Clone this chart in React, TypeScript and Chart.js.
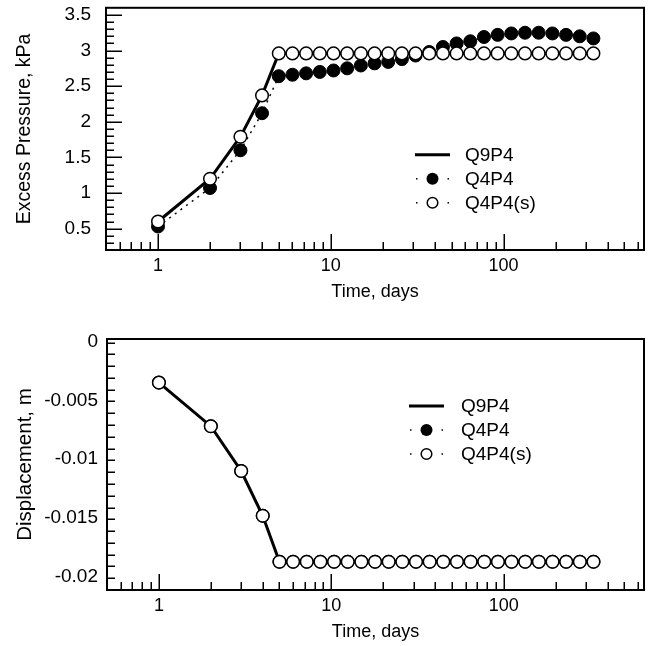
import React, { useEffect, useRef } from "react";
import { Chart, registerables } from "chart.js";

Chart.register(...registerables);

// ---------- data ----------
const TIME_DAYS = [1, 2, 3, 4, 5, 6, 7.2, 8.64, 10.37, 12.44, 14.93, 17.92, 21.5, 25.8, 30.96, 37.15, 44.58, 53.5, 64.2, 77.04, 92.45, 110.9, 133.1, 159.7, 191.7, 230, 276, 331.2];

const PRESSURE_Q9P4 = [0.6, 1.2, 1.79, 2.37, 2.96, 2.96, 2.96, 2.96, 2.96, 2.96, 2.96, 2.96, 2.96, 2.96, 2.96, 2.96, 2.96, 2.96, 2.96, 2.96, 2.96, 2.96, 2.96, 2.96, 2.96, 2.96, 2.96, 2.96];
const PRESSURE_Q4P4 = [0.53, 1.07, 1.6, 2.12, 2.64, 2.66, 2.68, 2.7, 2.72, 2.75, 2.79, 2.82, 2.84, 2.88, 2.93, 2.98, 3.05, 3.1, 3.13, 3.19, 3.22, 3.24, 3.25, 3.25, 3.24, 3.22, 3.2, 3.17];
const PRESSURE_Q4P4S = [0.6, 1.2, 1.79, 2.37, 2.96, 2.96, 2.96, 2.96, 2.96, 2.96, 2.96, 2.96, 2.96, 2.96, 2.96, 2.96, 2.96, 2.96, 2.96, 2.96, 2.96, 2.96, 2.96, 2.96, 2.96, 2.96, 2.96, 2.96];

const DISP_Q9P4 = [-0.0035, -0.0072, -0.011, -0.0148, -0.0187, -0.0187, -0.0187, -0.0187, -0.0187, -0.0187, -0.0187, -0.0187, -0.0187, -0.0187, -0.0187, -0.0187, -0.0187, -0.0187, -0.0187, -0.0187, -0.0187, -0.0187, -0.0187, -0.0187, -0.0187, -0.0187, -0.0187, -0.0187];
const DISP_Q4P4 = [-0.0035, -0.0072, -0.011, -0.0148, -0.0187, -0.0187, -0.0187, -0.0187, -0.0187, -0.0187, -0.0187, -0.0187, -0.0187, -0.0187, -0.0187, -0.0187, -0.0187, -0.0187, -0.0187, -0.0187, -0.0187, -0.0187, -0.0187, -0.0187, -0.0187, -0.0187, -0.0187, -0.0187];
const DISP_Q4P4S = [-0.0035, -0.0072, -0.011, -0.0148, -0.0187, -0.0187, -0.0187, -0.0187, -0.0187, -0.0187, -0.0187, -0.0187, -0.0187, -0.0187, -0.0187, -0.0187, -0.0187, -0.0187, -0.0187, -0.0187, -0.0187, -0.0187, -0.0187, -0.0187, -0.0187, -0.0187, -0.0187, -0.0187];

const SERIES_NAMES = ["Q9P4", "Q4P4", "Q4P4(s)"];

const X_TICKS = [1, 10, 100];
const X_TICK_LABELS = ["1", "10", "100"];
const X_MINOR_TICKS = [0.6, 0.7, 0.8, 0.9, 2, 3, 4, 5, 6, 7, 8, 9, 20, 30, 40, 50, 60, 70, 80, 90, 200, 300, 400, 500, 600];

const P_TICKS = [0.5, 1, 1.5, 2, 2.5, 3, 3.5];
const P_TICK_LABELS = ["0.5", "1", "1.5", "2", "2.5", "3", "3.5"];
const D_TICKS = [0, -0.005, -0.01, -0.015, -0.02];
const D_TICK_LABELS = ["0", "-0.005", "-0.01", "-0.015", "-0.02"];

const FONT = "'Liberation Sans', Arial, Helvetica, sans-serif";

function pts(ys: number[]) {
  return TIME_DAYS.map((x, i) => ({ x, y: ys[i] }));
}

// ---------- plugins ----------
const framePlugin = {
  id: "frame",
  beforeDatasetsDraw(chart: any, _args: any, opts: any) {
    const { ctx, chartArea: a, scales } = chart;
    const x = scales.x;
    const y = scales.y;
    ctx.save();
    ctx.strokeStyle = "#000";
    ctx.lineWidth = 1.5;
    ctx.beginPath();
    for (const v of X_TICKS) {
      const px = Math.round(x.getPixelForValue(v)) + 0.25;
      ctx.moveTo(px, a.bottom);
      ctx.lineTo(px, a.bottom - 16);
    }
    for (const v of X_MINOR_TICKS) {
      const px = Math.round(x.getPixelForValue(v)) + 0.25;
      ctx.moveTo(px, a.bottom);
      ctx.lineTo(px, a.bottom - 8);
    }
    const n = Math.round((opts.yMax - opts.yMin) / opts.minorStep);
    for (let i = 0; i <= n; i++) {
      const v = opts.yMin + i * opts.minorStep;
      if (v <= opts.yMin + 1e-9 || v >= opts.yMax - 1e-9) continue;
      const isMajor = Math.abs(v / opts.majorStep - Math.round(v / opts.majorStep)) < 1e-6;
      const py = Math.round(y.getPixelForValue(v)) + 0.25;
      ctx.moveTo(a.left, py);
      ctx.lineTo(a.left + (isMajor ? 16 : 8), py);
    }
    ctx.stroke();
    ctx.lineWidth = 2;
    ctx.strokeRect(a.left, a.top, a.right - a.left, a.bottom - a.top);
    ctx.restore();
  },
};

const legendPlugin = {
  id: "customLegend",
  afterDatasetsDraw(chart: any, _args: any, opts: any) {
    const { ctx, chartArea: a } = chart;
    const x0 = a.left + opts.dx;
    const y0 = a.top + opts.dy;
    const gap = 24;
    const len = 35;
    const mid = x0 + len / 2;
    ctx.save();
    ctx.fillStyle = "#000";
    ctx.strokeStyle = "#000";
    ctx.lineWidth = 3;
    ctx.beginPath();
    ctx.moveTo(x0, y0);
    ctx.lineTo(x0 + len, y0);
    ctx.stroke();
    for (let r = 1; r <= 2; r++) {
      const yy = y0 + r * gap;
      ctx.fillRect(x0 + 1, yy - 0.75, 1.5, 1.5);
      ctx.fillRect(x0 + len - 2.5, yy - 0.75, 1.5, 1.5);
      ctx.beginPath();
      ctx.arc(mid, yy, r === 1 ? 6 : 5.3, 0, Math.PI * 2);
      if (r === 1) {
        ctx.fill();
      } else {
        ctx.fillStyle = "#fff";
        ctx.fill();
        ctx.lineWidth = 1.5;
        ctx.stroke();
        ctx.fillStyle = "#000";
      }
    }
    ctx.font = `19px ${FONT}`;
    ctx.textBaseline = "middle";
    ctx.textAlign = "left";
    SERIES_NAMES.forEach((name, i) => {
      ctx.fillText(name, x0 + opts.textDx, y0 + i * gap + 1);
    });
    ctx.restore();
  },
};

function zeroPad(s: any) {
  s.paddingTop = 0;
  s.paddingBottom = 0;
  s.paddingLeft = 0;
  s.paddingRight = 0;
}

function makeConfig(p: {
  q9: number[];
  q4: number[];
  q4s: number[];
  yMin: number;
  yMax: number;
  yTicks: number[];
  yLabels: string[];
  yTitle: string;
  yTitleSize: number;
  majorStep: number;
  minorStep: number;
  yAxisWidth: number;
  yTickPad: number;
  padding: any;
  legend: any;
}) {
  return {
    type: "line",
    data: {
      datasets: [
        {
          label: SERIES_NAMES[0],
          data: pts(p.q9),
          borderColor: "#000",
          borderWidth: 3,
          pointRadius: 0,
          fill: false,
          order: 3,
        },
        {
          label: SERIES_NAMES[1],
          data: pts(p.q4),
          borderColor: "#000",
          borderWidth: 1.5,
          borderDash: [2, 5],
          pointRadius: 6.5,
          pointBackgroundColor: "#000",
          pointBorderColor: "#000",
          pointBorderWidth: 1,
          fill: false,
          order: 2,
        },
        {
          label: SERIES_NAMES[2],
          data: pts(p.q4s),
          borderColor: "#000",
          borderWidth: 1.5,
          borderDash: [2, 5],
          pointRadius: 6.3,
          pointBackgroundColor: "#fff",
          pointBorderColor: "#000",
          pointBorderWidth: 1.5,
          fill: false,
          order: 1,
        },
      ],
    },
    options: {
      animation: false,
      responsive: false,
      devicePixelRatio: 1,
      layout: { padding: p.padding },
      plugins: {
        legend: { display: false },
        tooltip: { enabled: false },
        frame: { yMin: p.yMin, yMax: p.yMax, majorStep: p.majorStep, minorStep: p.minorStep },
        customLegend: p.legend,
      },
      scales: {
        x: {
          type: "logarithmic",
          position: "bottom",
          min: 0.5,
          max: 650,
          grid: { display: false, drawTicks: false },
          border: { display: false },
          ticks: {
            color: "#000",
            font: { family: FONT, size: 18 },
            padding: 5,
            autoSkip: false,
            maxRotation: 0,
            callback: (_v: any, i: number) => X_TICK_LABELS[i],
          },
          afterBuildTicks: (s: any) => {
            s.ticks = X_TICKS.map((v) => ({ value: v }));
          },
          afterFit: (s: any) => {
            s.height = 53;
            zeroPad(s);
          },
          title: {
            display: true,
            text: "Time, days",
            color: "#000",
            font: { family: FONT, size: 18 },
            padding: { top: 0, bottom: 0 },
          },
        },
        y: {
          type: "linear",
          min: p.yMin,
          max: p.yMax,
          grid: { display: false, drawTicks: false },
          border: { display: false },
          ticks: {
            color: "#000",
            font: { family: FONT, size: 19 },
            padding: p.yTickPad,
            autoSkip: false,
            callback: (_v: any, i: number) => p.yLabels[i],
          },
          afterBuildTicks: (s: any) => {
            s.ticks = p.yTicks.map((v) => ({ value: v }));
          },
          afterFit: (s: any) => {
            s.width = p.yAxisWidth;
            zeroPad(s);
          },
          title: {
            display: true,
            text: p.yTitle,
            color: "#000",
            font: { family: FONT, size: p.yTitleSize },
            padding: { top: 25 - (p.yTitleSize * 1.2) / 2, bottom: 0 },
          },
        },
      },
    },
    plugins: [framePlugin, legendPlugin],
  } as any;
}

function ChartCanvas({ config, width, height, top }: { config: any; width: number; height: number; top: number }) {
  const ref = useRef<HTMLCanvasElement | null>(null);
  useEffect(() => {
    if (!ref.current) return;
    const chart = new Chart(ref.current, config);
    return () => chart.destroy();
  }, [config]);
  return (
    <canvas
      ref={ref}
      width={width}
      height={height}
      style={{ position: "absolute", left: 0, top, width, height, display: "block" }}
    />
  );
}

const topConfig = makeConfig({
  q9: PRESSURE_Q9P4,
  q4: PRESSURE_Q4P4,
  q4s: PRESSURE_Q4P4S,
  yMin: 0.2,
  yMax: 3.6,
  yTicks: P_TICKS,
  yLabels: P_TICK_LABELS,
  yTitle: "Excess Pressure, kPa",
  yTitleSize: 19.5,
  majorStep: 0.5,
  minorStep: 0.1,
  yAxisWidth: 106,
  yTickPad: 15,
  padding: { top: 6, right: 9, bottom: 17, left: 0 },
  legend: { dx: 309, dy: 147, textDx: 50 },
});

const bottomConfig = makeConfig({
  q9: DISP_Q9P4,
  q4: DISP_Q4P4,
  q4s: DISP_Q4P4S,
  yMin: -0.0211,
  yMax: 0.0002,
  yTicks: D_TICKS,
  yLabels: D_TICK_LABELS,
  yTitle: "Displacement, m",
  yTitleSize: 20.5,
  majorStep: 0.005,
  minorStep: 0.001,
  yAxisWidth: 107,
  yTickPad: 9,
  padding: { top: 19, right: 9, bottom: 3, left: 0 },
  legend: { dx: 302, dy: 67, textDx: 52 },
});

export default function App() {
  return (
    <div style={{ position: "absolute", left: 0, top: 0, width: 653, height: 646, background: "#fff" }}>
      <ChartCanvas config={topConfig} width={653} height={320} top={0} />
      <ChartCanvas config={bottomConfig} width={653} height={326} top={320} />
    </div>
  );
}
